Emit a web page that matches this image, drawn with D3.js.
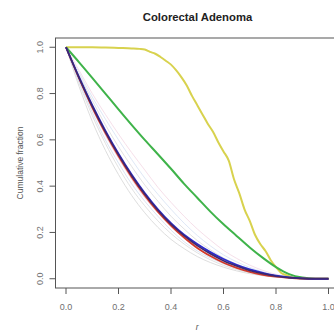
<!DOCTYPE html>
<html lang="en">
<head>
    <meta charset="UTF-8">
    <title>Colorectal Adenoma</title>
    <script src="https://d3js.org/d3.v7.min.js"></script>
    <style>
        body { margin: 0; background: #fff; }
        text { font-family: "Liberation Sans", Arial, sans-serif; }
        .tick-label { font-size: 9px; fill: #707070; }
        .axis-title { font-size: 8.5px; fill: #555; }
    </style>
</head>
<body>
    <svg id="chart"></svg>

    <script>
        // common grid on r for most curves
        const rGrid = [0, 0.05, 0.1, 0.15, 0.2, 0.25, 0.3, 0.35, 0.4, 0.45, 0.5,
                       0.55, 0.6, 0.65, 0.7, 0.75, 0.8, 0.85, 0.9, 0.95, 1];

        // faint background curves (grey / pale blue / pink)
        const faint1 = [1, .83, .68, .555, .45, .36, .285, .222, .17, .13, .096, .07, .05, .034, .022, .013, .007, .003, .001, 0, 0];
        const faint2 = [1, .845, .705, .585, .48, .39, .315, .25, .195, .15, .112, .082, .058, .04, .026, .016, .009, .004, .001, 0, 0];
        const faint3 = [1, .85, .72, .60, .50, .41, .335, .27, .21, .16, .12, .09, .065, .045, .03, .018, .01, .005, .002, 0, 0];
        const faint4 = [1, .86, .735, .62, .52, .43, .35, .285, .225, .175, .135, .10, .072, .05, .033, .02, .011, .005, .002, 0, 0];
        const faint5 = [1, .88, .77, .665, .57, .485, .405, .335, .27, .215, .165, .125, .09, .063, .042, .026, .014, .006, .002, 0, 0];
        const faint6 = [1, .89, .785, .69, .60, .515, .435, .365, .30, .24, .187, .142, .103, .073, .049, .03, .016, .007, .002, 0, 0];
        const faint7 = [1, .90, .80, .71, .625, .545, .47, .395, .33, .27, .215, .167, .123, .088, .059, .036, .019, .008, .003, 0, 0];
        const faint8 = [1, .87, .75, .64, .54, .45, .37, .30, .24, .19, .145, .108, .078, .054, .036, .022, .012, .005, .002, 0, 0];

        // main curves
        const redVals    = [1, .865, .74, .63, .53, .44, .36, .29, .23, .178, .133, .098, .069, .047, .03, .017, .009, .004, .001, 0, 0];
        const blueVals   = [1, .87, .75, .64, .54, .45, .37, .30, .24, .19, .15, .115, .085, .06, .04, .025, .013, .006, .002, 0, 0];
        const purpleVals = [1, .868, .746, .636, .536, .446, .366, .296, .236, .186, .143, .108, .078, .055, .036, .022, .011, .005, .001, 0, 0];
        const greenVals  = [1, .935, .868, .80, .732, .665, .60, .538, .475, .41, .35, .29, .235, .185, .135, .09, .05, .02, .005, 0, 0];

        const yellowR = [0, .05, .1, .15, .2, .25, .28, .3, .32, .34, .36, .38, .4, .42, .44, .46, .48, .5, .52, .54,
                         .56, .58, .6, .62, .64, .66, .68, .7, .72, .74, .76, .78, .8, .82, .84, .86, .88, .9, .95, 1];
        const yellowVals = [1, 1, 1, .999, .997, .995, .993, .99, .98, .972, .958, .942, .925, .9, .87, .835, .79, .75, .71, .67,
                            .635, .59, .55, .51, .43, .37, .30, .25, .19, .15, .12, .08, .05, .025, .015, .007, .003, .001, 0, 0];

        const xTicks = [0, 0.2, 0.4, 0.6, 0.8, 1.0];
        const yTicks = [0, 0.2, 0.4, 0.6, 0.8, 1.0];

        const width = 334, height = 333;
        const box = { left: 55.5, top: 38, right: 339, bottom: 288 };

        const x = d3.scaleLinear()
            .domain([-0.04, 1.04])
            .range([box.left, box.right]);
        const y = d3.scaleLinear()
            .domain([-0.04, 1.04])
            .range([box.bottom, box.top]);

        const svg = d3.select("#chart")
            .attr("width", width)
            .attr("height", height);

        const line = d3.line()
            .x(d => x(d[0]))
            .y(d => y(d[1]))
            .curve(d3.curveMonotoneX);

        const series = [
            { r: rGrid, v: faint1, color: "#dedede", w: 1 },
            { r: rGrid, v: faint2, color: "#e2e2e2", w: 1 },
            { r: rGrid, v: faint3, color: "#dae4f4", w: 1 },
            { r: rGrid, v: faint4, color: "#f4dae4", w: 1 },
            { r: rGrid, v: faint5, color: "#e2e2e2", w: 1 },
            { r: rGrid, v: faint6, color: "#dfe8f6", w: 1 },
            { r: rGrid, v: faint7, color: "#f6e0ea", w: 1 },
            { r: rGrid, v: faint8, color: "#e6e2f2", w: 1 },
            { r: yellowR, v: yellowVals, color: "#d8d24e", w: 2 },
            { r: rGrid, v: greenVals, color: "#3fb34a", w: 2 },
            { r: rGrid, v: redVals, color: "#d23a2a", w: 1.8 },
            { r: rGrid, v: blueVals, color: "#2b2bd0", w: 1.8 },
            { r: rGrid, v: purpleVals, color: "#3c2870", w: 1.6 }
        ];

        svg.append("g")
            .selectAll("path")
            .data(series)
            .join("path")
            .attr("fill", "none")
            .attr("stroke", d => d.color)
            .attr("stroke-width", d => d.w)
            .attr("stroke-linejoin", "round")
            .attr("d", d => line(d.r.map((r, i) => [r, d.v[i]])));

        // plot box
        svg.append("rect")
            .attr("x", box.left)
            .attr("y", box.top)
            .attr("width", box.right - box.left)
            .attr("height", box.bottom - box.top)
            .attr("fill", "none")
            .attr("stroke", "#555")
            .attr("stroke-width", 1);

        // x axis (R style)
        const xAxis = svg.append("g");
        xAxis.selectAll("line")
            .data(xTicks)
            .join("line")
            .attr("x1", d => x(d)).attr("x2", d => x(d))
            .attr("y1", box.bottom).attr("y2", box.bottom + 6)
            .attr("stroke", "#555");
        xAxis.selectAll("text")
            .data(xTicks)
            .join("text")
            .attr("class", "tick-label")
            .attr("x", d => x(d))
            .attr("y", 309.5)
            .attr("text-anchor", "middle")
            .text(d => d.toFixed(1));

        // y axis (R style, labels parallel to axis)
        const yAxis = svg.append("g");
        yAxis.selectAll("line")
            .data(yTicks)
            .join("line")
            .attr("x1", box.left).attr("x2", box.left - 6)
            .attr("y1", d => y(d)).attr("y2", d => y(d))
            .attr("stroke", "#555");
        yAxis.selectAll("text")
            .data(yTicks)
            .join("text")
            .attr("class", "tick-label")
            .attr("text-anchor", "middle")
            .attr("transform", d => `translate(42.5,${y(d)}) rotate(-90)`)
            .text(d => d.toFixed(1));

        svg.append("text")
            .attr("x", 197.5)
            .attr("y", 20.7)
            .attr("text-anchor", "middle")
            .style("font-size", "11.3px")
            .style("font-weight", "bold")
            .attr("fill", "#222")
            .text("Colorectal Adenoma");

        svg.append("text")
            .attr("class", "axis-title")
            .attr("x", x(0.5))
            .attr("y", 330)
            .attr("text-anchor", "middle")
            .style("font-style", "italic")
            .text("r");

        svg.append("text")
            .attr("class", "axis-title")
            .attr("text-anchor", "middle")
            .attr("transform", `translate(23,${(box.top + box.bottom) / 2}) rotate(-90)`)
            .text("Cumulative fraction");
    </script>
</body>
</html>
